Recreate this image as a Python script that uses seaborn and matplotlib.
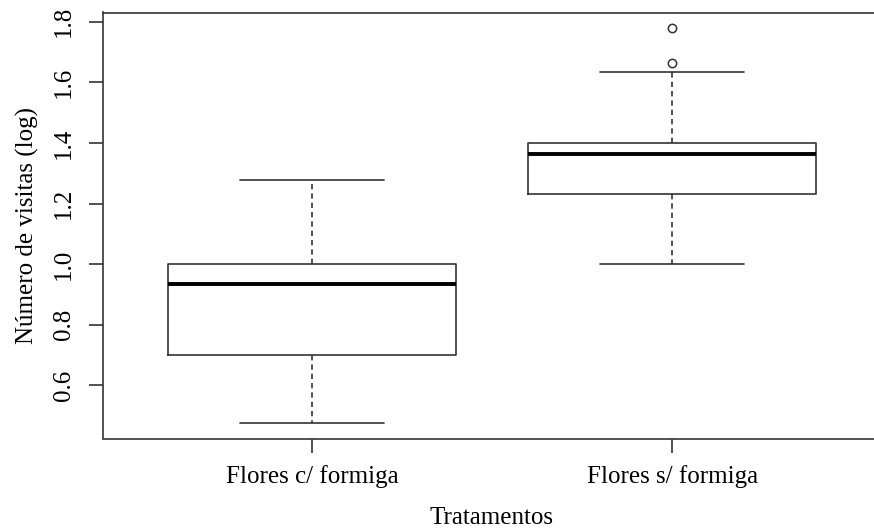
import numpy as np
import pandas as pd
import matplotlib
matplotlib.use("Agg")
import matplotlib.pyplot as plt
import seaborn as sns

# Visit counts per flower (log10 scale), by treatment
categories = ["Flores c/ formiga", "Flores s/ formiga"]
com_formiga = [0.477, 0.699, 0.933, 1.000, 1.279]
sem_formiga = [1.000, 1.114, 1.204, 1.230, 1.279, 1.322, 1.362,
               1.380, 1.398, 1.398, 1.633, 1.663, 1.778]
y_ticks = [0.6, 0.8, 1.0, 1.2, 1.4, 1.6, 1.8]

df = pd.DataFrame({
    "Tratamentos": [categories[0]] * len(com_formiga) + [categories[1]] * len(sem_formiga),
    "visitas": com_formiga + sem_formiga,
})

sns.set_theme(style="white")
plt.rcParams["font.family"] = ["Liberation Serif", "DejaVu Serif"]

fig = plt.figure(figsize=(8.74, 5.31), dpi=100)
ax = fig.add_axes([103 / 874, 1 - 438.5 / 531, 778 / 874, 426 / 531])

line_col = "#333333"
sns.boxplot(
    data=df, x="Tratamentos", y="visitas", order=categories, ax=ax,
    width=0.8, whis=1.5, fill=False, color=line_col, linewidth=1.2,
    boxprops=dict(color=line_col, linewidth=1.2),
    medianprops=dict(color="black", linewidth=2.8),
    whiskerprops=dict(color=line_col, linewidth=1.2, linestyle=(0, (3.2, 2.4))),
    capprops=dict(color=line_col, linewidth=1.2),
    flierprops=dict(marker="o", markersize=6, markerfacecolor="white",
                    markeredgecolor=line_col, markeredgewidth=1.1),
)

ax.set_xlim(-0.58, 1.58)
ax.set_ylim(0.425, 1.830)
ax.set_yticks(y_ticks)
ax.set_yticklabels([f"{t:.1f}" for t in y_ticks], rotation=90, va="center")

for side in ["left", "bottom", "top", "right"]:
    ax.spines[side].set_visible(True)
    ax.spines[side].set_color(line_col)
    ax.spines[side].set_linewidth(1.2)

ax.tick_params(axis="both", which="major", direction="out", length=10,
               width=1.2, color=line_col, labelsize=18, labelcolor="black")
ax.tick_params(axis="y", pad=10, left=True)
ax.tick_params(axis="x", pad=9, bottom=True)

ax.set_xlabel("Tratamentos", fontsize=18, color="black", labelpad=14)
ax.set_ylabel("Número de visitas (log)", fontsize=18, color="black", labelpad=10)

fig.savefig("out.png", dpi=100, facecolor="white")
